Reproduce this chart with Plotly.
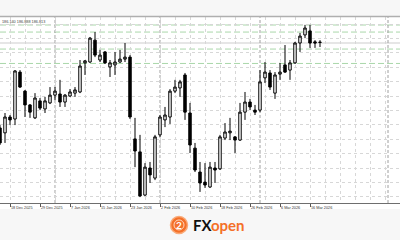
import plotly.graph_objects as go

# ---- data (daily candles, index 0 = 16 Dec 2025) ----
dates = ["16 Dec 2025","17 Dec 2025","18 Dec 2025","19 Dec 2025","22 Dec 2025","23 Dec 2025","24 Dec 2025","26 Dec 2025",
         "29 Dec 2025","30 Dec 2025","31 Dec 2025","2 Jan 2026","5 Jan 2026","6 Jan 2026","7 Jan 2026","8 Jan 2026",
         "9 Jan 2026","12 Jan 2026","13 Jan 2026","14 Jan 2026","15 Jan 2026","16 Jan 2026","19 Jan 2026","20 Jan 2026",
         "21 Jan 2026","22 Jan 2026","23 Jan 2026","26 Jan 2026","27 Jan 2026","28 Jan 2026","29 Jan 2026","30 Jan 2026",
         "2 Feb 2026","3 Feb 2026","4 Feb 2026","5 Feb 2026","6 Feb 2026","9 Feb 2026","10 Feb 2026","11 Feb 2026",
         "12 Feb 2026","13 Feb 2026","16 Feb 2026","17 Feb 2026","18 Feb 2026","19 Feb 2026","20 Feb 2026","23 Feb 2026",
         "24 Feb 2026","25 Feb 2026","26 Feb 2026","27 Feb 2026","2 Mar 2026","3 Mar 2026","4 Mar 2026","5 Mar 2026",
         "6 Mar 2026","9 Mar 2026","10 Mar 2026","11 Mar 2026","12 Mar 2026","13 Mar 2026","16 Mar 2026","17 Mar 2026",
         "18 Mar 2026"]

opens = [183.89,183.72,184.27,184.20,185.83,185.17,184.69,184.24,184.83,184.55,184.76,185.03,185.07,184.79,185.00,185.10,
         185.14,186.15,186.18,186.94,186.25,186.53,186.01,186.08,186.18,186.28,186.35,183.51,183.06,181.56,182.50,182.15,
         183.65,184.17,184.27,185.17,185.28,185.73,184.41,183.19,182.36,182.01,181.84,182.50,182.47,183.54,183.72,183.58,
         183.47,184.44,184.79,184.51,184.51,185.63,185.80,185.10,185.76,186.08,185.90,186.15,186.84,187.12,187.26,186.88,
         186.87]
highs = [183.99,184.41,184.34,185.90,185.90,185.21,184.72,185.10,184.93,184.97,185.31,185.31,185.56,185.07,185.24,185.31,
         186.25,186.25,187.05,187.22,186.60,186.56,186.25,186.53,186.60,186.84,186.42,184.24,183.65,182.67,182.71,183.65,
         184.34,184.62,185.24,185.56,185.56,185.80,184.76,183.37,182.71,182.67,182.71,182.71,183.65,184.06,184.24,183.61,
         184.76,185.14,184.90,184.69,185.90,186.18,185.90,185.83,186.15,186.77,186.25,186.88,187.19,187.47,187.47,186.94,
         186.94]
lows = [183.30,183.37,183.99,183.99,185.28,184.27,184.24,184.20,184.51,184.41,184.72,184.86,184.62,184.62,184.97,184.97,
        185.10,185.73,186.15,186.35,186.18,186.11,185.66,185.73,186.15,186.18,184.20,182.53,181.49,181.53,181.98,182.08,
        183.58,183.92,184.03,185.10,184.97,184.17,183.02,182.36,181.67,181.81,181.81,181.98,182.43,183.47,183.47,183.02,
        183.44,184.17,184.51,184.34,184.44,185.45,185.21,184.90,185.56,185.80,185.56,186.11,186.53,187.01,186.67,186.67,
        186.70]
closes = [183.37,184.27,184.17,185.87,185.31,184.69,184.44,184.93,184.58,184.83,185.03,185.17,184.79,185.03,185.14,185.21,
          186.04,186.22,187.01,186.42,186.42,186.15,186.15,186.18,186.28,186.35,184.27,183.09,181.53,182.53,182.26,183.58,
          184.27,184.34,185.17,185.31,185.49,184.44,183.30,182.43,181.98,181.91,182.53,182.43,183.58,183.75,183.78,183.47,
          184.44,184.79,184.62,184.44,185.49,185.83,185.31,185.73,185.83,185.83,186.15,186.84,187.08,187.36,186.84,186.84,
          186.86]

levels = [187.465, 187.22, 186.63, 186.13]   # horizontal dashed levels
bid = 186.84
header_text = "186.140 186.888 186.813"
month_starts = ["2 Jan 2026", "2 Feb 2026", "2 Mar 2026"]
label_every = 6
first_label = 2

idx = list(range(len(dates)))
tick_idx = list(range(first_label, len(dates), label_every))
tick_txt = [dates[i] for i in tick_idx]

fig = go.Figure()
fig.add_trace(go.Candlestick(
    x=idx, open=opens, high=highs, low=lows, close=closes,
    increasing=dict(fillcolor="white", line=dict(color="black", width=1)),
    decreasing=dict(fillcolor="black", line=dict(color="black", width=1)),
    whiskerwidth=0, showlegend=False, hoverinfo="skip"))

shapes = []
for lv in levels:
    shapes.append(dict(type="line", xref="paper", x0=0, x1=1, yref="y", y0=lv, y1=lv,
                       line=dict(color="rgb(170,215,170)", width=1, dash="6px,3px"), layer="below"))
shapes.append(dict(type="line", xref="paper", x0=0, x1=1, yref="y", y0=bid, y1=bid,
                   line=dict(color="rgb(205,205,205)", width=1), layer="below"))
for m in month_starts:
    i = dates.index(m)
    shapes.append(dict(type="line", xref="x", x0=i, x1=i, yref="paper", y0=0, y1=1,
                       line=dict(color="rgb(160,160,160)", width=1, dash="3px,2px"), layer="below"))
shapes.append(dict(type="line", xref="x", x0=77.6, x1=77.6, yref="paper", y0=0, y1=1,
                   line=dict(color="rgb(160,160,160)", width=1, dash="3px,2px"), layer="below"))
# top border of chart
shapes.append(dict(type="line", xref="paper", x0=0, x1=1, yref="paper", y0=1.003, y1=1.003,
                   line=dict(color="rgb(175,175,175)", width=1.5)))
# white strip under the axis holding the date labels
shapes.append(dict(type="rect", xref="paper", x0=0, x1=1, yref="paper", y0=-0.032, y1=0,
                   fillcolor="white", line=dict(width=0), layer="below"))
# logo emblem
shapes.append(dict(type="circle", xref="paper", yref="paper", xsizemode="pixel", ysizemode="pixel",
                   xanchor=0.4475, yanchor=-0.118, x0=-8.5, x1=8.5, y0=-8.5, y1=8.5,
                   fillcolor="rgb(244,112,40)", line=dict(color="rgb(250,170,120)", width=1.5)))
shapes.append(dict(type="circle", xref="paper", yref="paper", xsizemode="pixel", ysizemode="pixel",
                   xanchor=0.4475, yanchor=-0.118, x0=-5, x1=5, y0=-5, y1=5,
                   fillcolor="rgba(0,0,0,0)", line=dict(color="rgb(255,215,190)", width=1)))

annotations = [
    dict(text=header_text, xref="paper", yref="paper", x=0.0, y=1.0, xanchor="left", yanchor="top",
         yshift=-1, showarrow=False, font=dict(size=3.8, color="#444", family="Liberation Sans")),
    dict(text="<b>2</b>", xref="paper", yref="paper", x=0.4475, y=-0.118, xanchor="center", yanchor="middle",
         showarrow=False, font=dict(size=10, color="white", family="Lato")),
    dict(text="<b>FX</b><b><span style='color:#f47028'>open</span></b>", xref="paper", yref="paper",
         x=0.477, y=-0.118, xanchor="left", yanchor="middle", showarrow=False,
         font=dict(size=15, color="#111", family="Lato")),
]

fig.update_layout(
    width=400, height=240, margin=dict(l=0, r=0, t=17, b=37),
    paper_bgcolor="#f7f7f7", plot_bgcolor="white",
    shapes=shapes, annotations=annotations, showlegend=False,
    xaxis=dict(range=[0, 80], rangeslider=dict(visible=False), tickmode="array",
               tickvals=tick_idx, ticktext=tick_txt, ticks="outside", ticklen=3, tickcolor="#555",
               tickangle=0, ticklabelposition="outside right",
               tickfont=dict(size=3.8, color="#333", family="Liberation Sans"),
               showgrid=True, gridcolor="rgb(215,215,215)", griddash="dot", gridwidth=1,
               minor=dict(tick0=first_label, dtick=3, showgrid=True, gridcolor="rgb(215,215,215)",
                          griddash="dot", ticks=""),
               showline=True, linecolor="rgb(110,110,110)", linewidth=1, zeroline=False, fixedrange=True),
    yaxis=dict(range=[181.285, 187.743], tick0=187.5, dtick=0.5, showticklabels=False, ticks="",
               showgrid=True, gridcolor="rgb(215,215,215)", griddash="dot", gridwidth=1,
               zeroline=False, showline=False, fixedrange=True),
)

fig.write_html("out.html")
